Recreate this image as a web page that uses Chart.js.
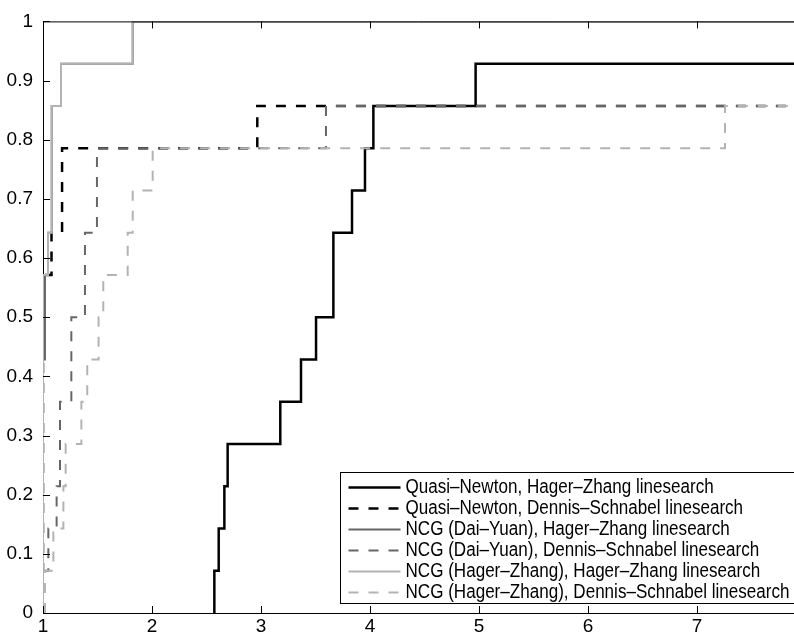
<!DOCTYPE html>
<html>
<head>
<meta charset="utf-8">
<script src="https://cdn.jsdelivr.net/npm/chart.js@4.4.0/dist/chart.umd.min.js"></script>
<style>
  html, body { margin: 0; padding: 0; background: #fff; overflow: hidden; }
  #wrap { width: 794px; height: 637px; position: relative; }
</style>
</head>
<body>
<div id="wrap"><canvas id="profile"></canvas></div>
<script>
// Performance profile: fraction of the 14 test problems solved within ratio x
const nProblems = 14;
const xMin = 1;
const xMax = 7.89;

const seriesNames = [
  "Quasi\u2013Newton, Hager\u2013Zhang linesearch",
  "Quasi\u2013Newton, Dennis\u2013Schnabel linesearch",
  "NCG (Dai\u2013Yuan), Hager\u2013Zhang linesearch",
  "NCG (Dai\u2013Yuan), Dennis\u2013Schnabel linesearch",
  "NCG (Hager\u2013Zhang), Hager\u2013Zhang linesearch",
  "NCG (Hager\u2013Zhang), Dennis\u2013Schnabel linesearch"
];

// jump positions (x) and problems solved after the jump (y, out of 14)
const qnHzX = [2.572, 2.612, 2.664, 2.694, 3.177, 3.367, 3.505, 3.664, 3.835, 3.954, 4.031, 4.969];
const qnHzY = [1, 2, 3, 4, 5, 6, 7, 9, 10, 11, 12, 13];

const qnDsX = [1.0, 1.078, 1.175, 2.966];
const qnDsY = [8, 9, 11, 12];

const dyHzX = [1.0, 1.018, 1.046, 1.08, 1.165, 1.823];
const dyHzY = [6, 8, 9, 12, 13, 14];

const dyDsX = [1.0, 1.049, 1.125, 1.156, 1.26, 1.385, 1.495, 3.596];
const dyDsY = [1, 2, 3, 5, 7, 9, 11, 12];

const hzHzX = [1.0, 1.046, 1.08, 1.165, 1.823];
const hzHzY = [8, 9, 12, 13, 14];

const hzDsX = [1.018, 1.095, 1.187, 1.208, 1.352, 1.406, 1.51, 1.553, 1.777, 1.823, 2.006, 7.257];
const hzDsY = [1, 2, 3, 4, 5, 6, 7, 8, 9, 10, 11, 12];

const xTicks = [1, 2, 3, 4, 5, 6, 7];
const yTicks = [0, 0.1, 0.2, 0.3, 0.4, 0.5, 0.6, 0.7, 0.8, 0.9, 1];
const yTickLabels = ['0', '0.1', '0.2', '0.3', '0.4', '0.5', '0.6', '0.7', '0.8', '0.9', '1'];

const FONT = "'Liberation Sans', Arial, sans-serif";
const DASH = [10, 10];

function stepPoints(xs, ys) {
  const pts = [{ x: xs[0], y: 0 }];
  xs.forEach((x, i) => pts.push({ x: x, y: ys[i] / nProblems }));
  pts.push({ x: xMax, y: ys[ys.length - 1] / nProblems });
  return pts;
}

function series(i, xs, ys, color, width, dash) {
  return {
    label: seriesNames[i],
    data: stepPoints(xs, ys),
    borderColor: color,
    borderWidth: width,
    borderDash: dash,
    stepped: true,
    pointRadius: 0,
    fill: false,
    order: 6 - i   // later series drawn on top, like the original
  };
}

// top border + inward tick marks
const axesBox = {
  id: 'axesBox',
  afterDatasetsDraw(chart) {
    const { ctx, chartArea: a, scales } = chart;
    ctx.save();
    ctx.strokeStyle = '#000';
    ctx.lineWidth = 1;
    ctx.setLineDash([]);
    ctx.beginPath();
    ctx.moveTo(a.left, a.top + 0.5);
    ctx.lineTo(a.right, a.top + 0.5);
    xTicks.forEach(v => {
      const px = Math.round(scales.x.getPixelForValue(v)) + 0.5;
      ctx.moveTo(px, a.bottom);
      ctx.lineTo(px, a.bottom - 7);
      ctx.moveTo(px, a.top);
      ctx.lineTo(px, a.top + 7);
    });
    yTicks.forEach(v => {
      const py = Math.round(scales.y.getPixelForValue(v)) + 0.5;
      ctx.moveTo(a.left, py);
      ctx.lineTo(a.left + 7, py);
    });
    ctx.stroke();
    ctx.restore();
  }
};

// boxed legend in the lower right corner (text a bit condensed, as in the original)
const boxLegend = {
  id: 'boxLegend',
  afterDraw(chart) {
    const { ctx, chartArea: a } = chart;
    const left = a.left + 297.5;
    const top = a.bottom - 140.5;
    const bottom = a.bottom - 9.5;
    const rowH = 21;
    ctx.save();
    ctx.fillStyle = '#fff';
    ctx.fillRect(left, top, a.right - left + 10, bottom - top);
    ctx.strokeStyle = '#000';
    ctx.lineWidth = 1;
    ctx.setLineDash([]);
    ctx.strokeRect(left, top, a.right - left + 10, bottom - top);
    ctx.font = '20px ' + FONT;
    ctx.textBaseline = 'middle';
    chart.data.datasets.forEach((ds, i) => {
      const y = top + 15 + i * rowH;
      ctx.beginPath();
      ctx.strokeStyle = ds.borderColor;
      ctx.lineWidth = ds.borderWidth;
      ctx.setLineDash(ds.borderDash || []);
      ctx.moveTo(left + 8, y);
      ctx.lineTo(left + 60, y);
      ctx.stroke();
      ctx.setLineDash([]);
      ctx.fillStyle = '#000';
      ctx.save();
      ctx.translate(left + 65, y);
      ctx.scale(0.853, 1);
      ctx.fillText(ds.label, 0, 0);
      ctx.restore();
    });
    ctx.restore();
  }
};

new Chart(document.getElementById('profile'), {
  type: 'line',
  data: {
    datasets: [
      series(0, qnHzX, qnHzY, '#000000', 2.5, []),
      series(1, qnDsX, qnDsY, '#000000', 2.5, DASH),
      series(2, dyHzX, dyHzY, '#666666', 2, []),
      series(3, dyDsX, dyDsY, '#666666', 2, DASH),
      series(4, hzHzX, hzHzY, '#b3b3b3', 2, []),
      series(5, hzDsX, hzDsY, '#b3b3b3', 2, DASH)
    ]
  },
  options: {
    responsive: true,
    maintainAspectRatio: false,
    animation: false,
    devicePixelRatio: 1,
    layout: { padding: { top: 13, left: 0, right: 0, bottom: 0 } },
    plugins: {
      legend: { display: false },
      tooltip: { enabled: false }
    },
    scales: {
      x: {
        type: 'linear',
        min: xMin,
        max: xMax,
        afterBuildTicks: s => { s.ticks = xTicks.map(v => ({ value: v })); },
        afterFit: s => { s.height = 24; },
        grid: { display: false, drawTicks: false },
        border: { display: true, color: '#000', width: 1 },
        ticks: { color: '#000', padding: 2, maxRotation: 0, font: { family: FONT, size: 19 } }
      },
      y: {
        type: 'linear',
        min: 0,
        max: 1,
        afterBuildTicks: s => { s.ticks = yTicks.map(v => ({ value: v })); },
        afterFit: s => { s.width = 43; },
        grid: { display: false, drawTicks: false },
        border: { display: true, color: '#000', width: 1 },
        ticks: {
          color: '#000',
          padding: 10,
          font: { family: FONT, size: 19 },
          callback: (v, i) => yTickLabels[i]
        }
      }
    }
  },
  plugins: [axesBox, boxLegend]
});
</script>
</body>
</html>
